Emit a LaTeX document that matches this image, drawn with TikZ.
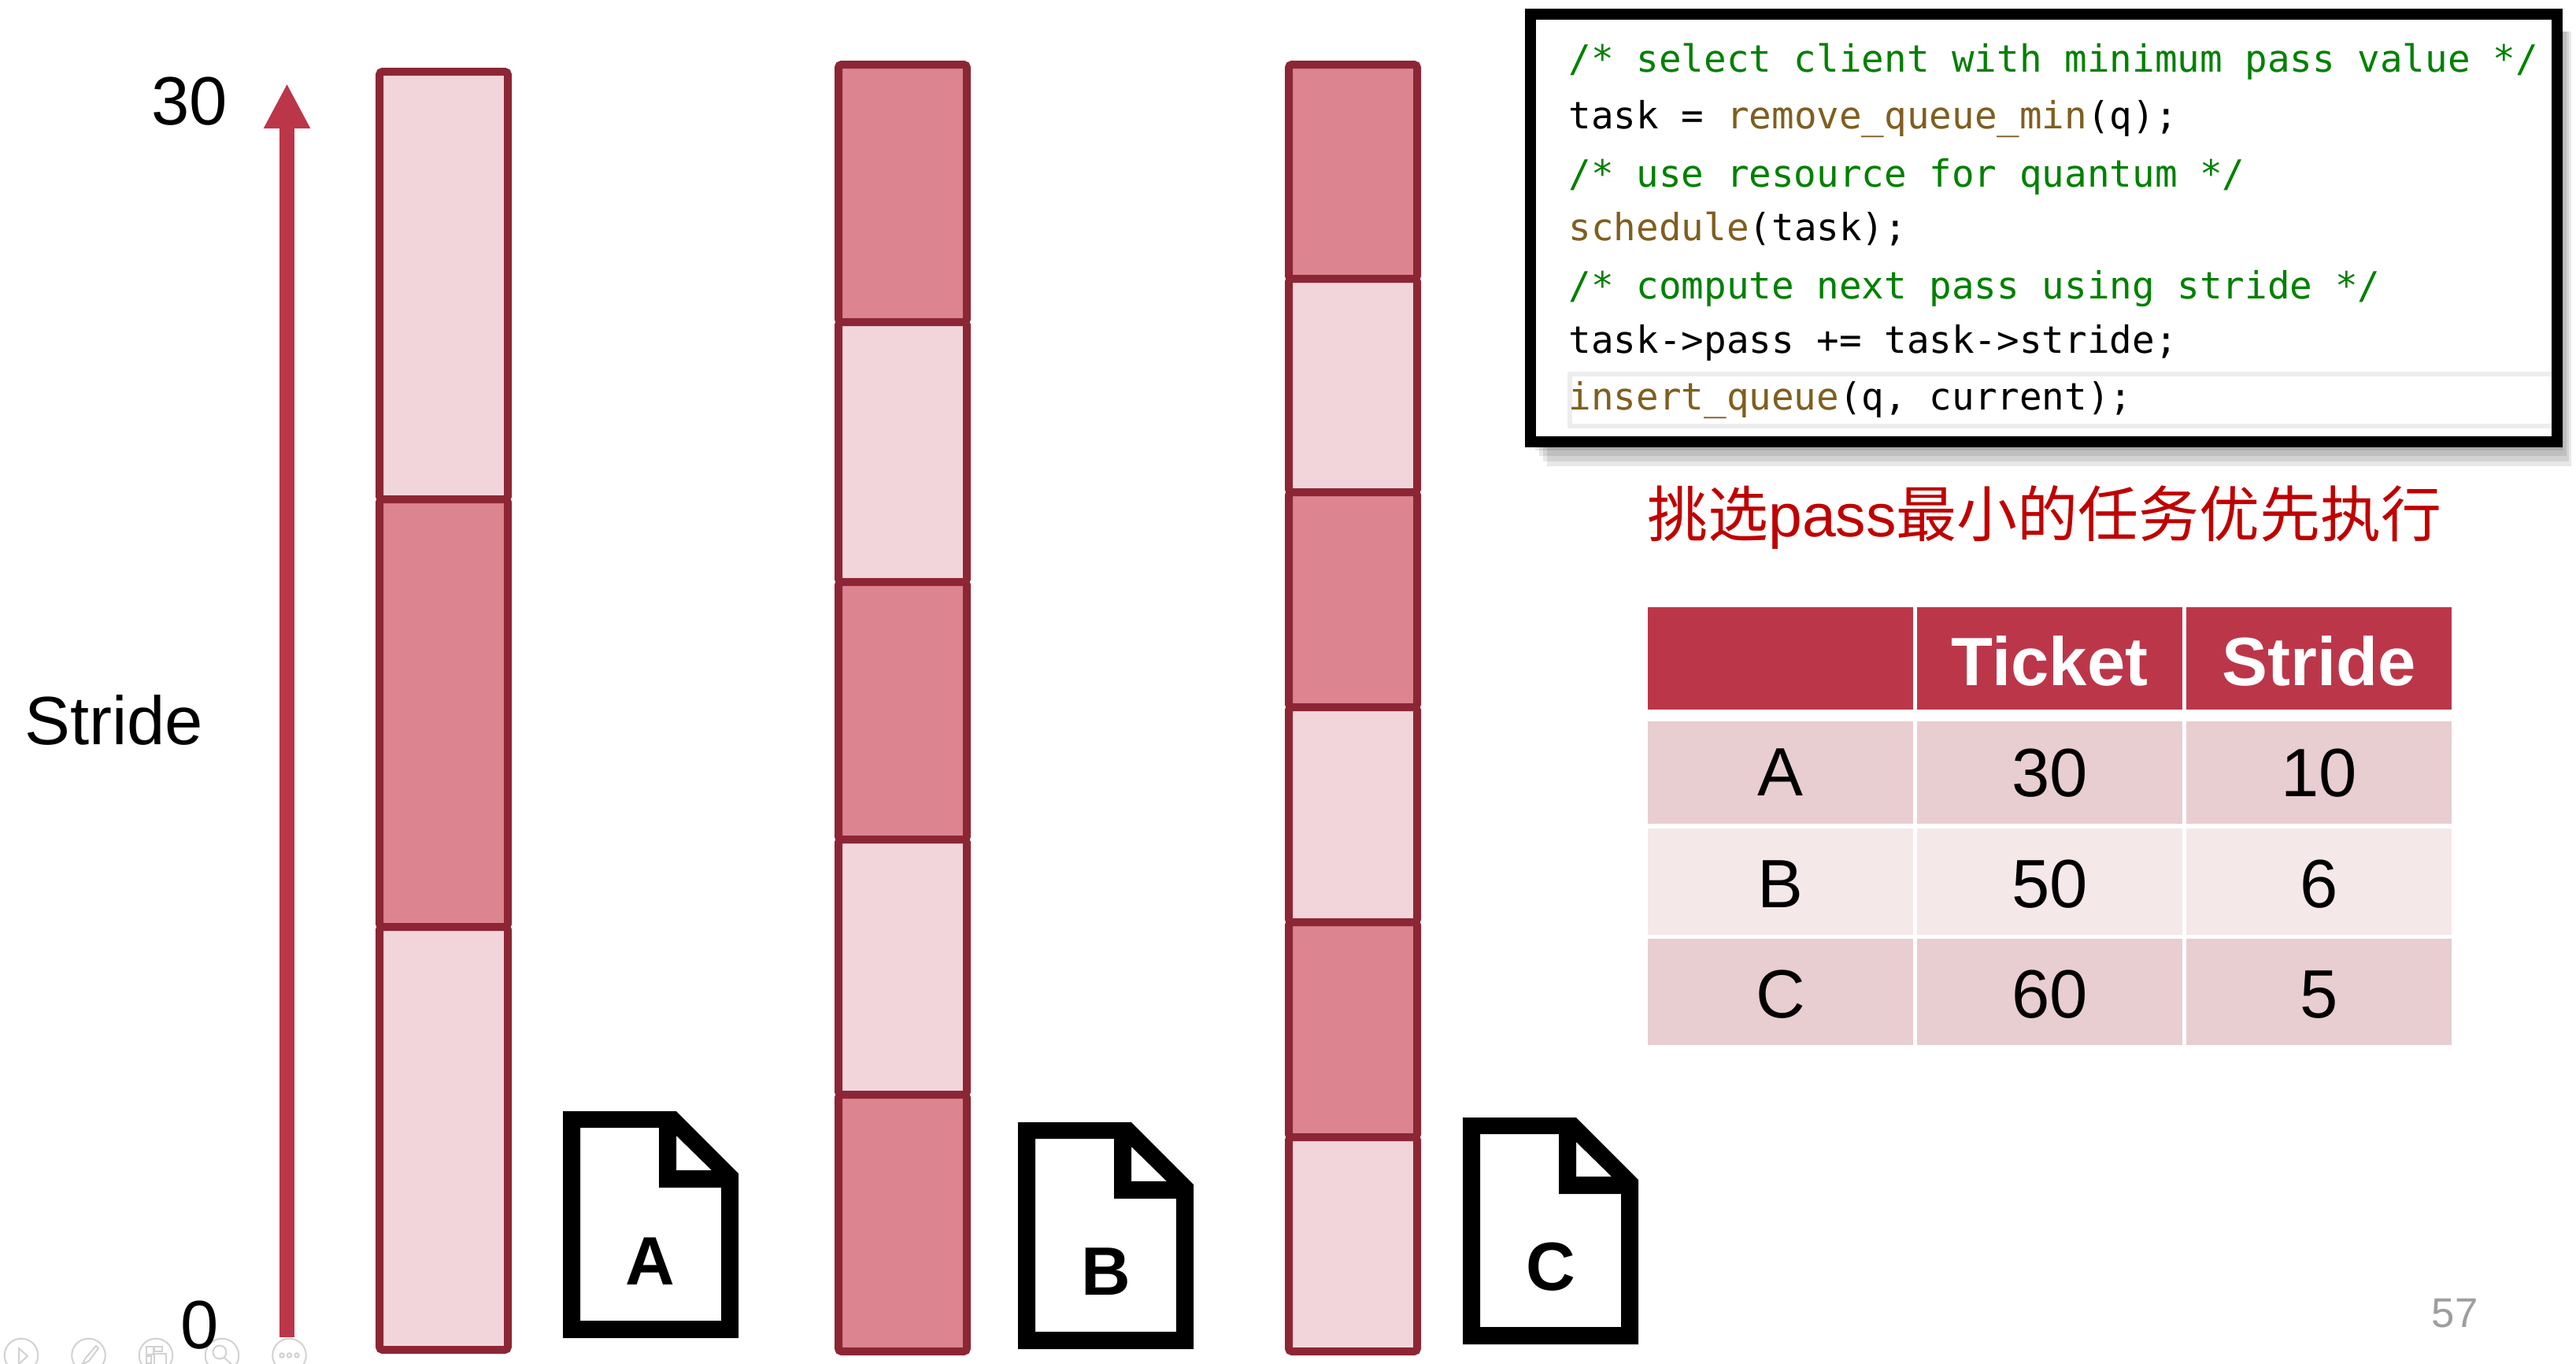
\documentclass[tikz,border=0pt]{standalone}
\usepackage{fontspec}
\setmainfont{Liberation Sans}
\newfontfamily\cjk{Noto Sans CJK SC}
\newfontfamily\codefont{DejaVu Sans Mono}
\usetikzlibrary{arrows.meta,positioning}
\definecolor{barline}{HTML}{8C2635}
\definecolor{barlite}{HTML}{F2D5DA}
\definecolor{bardark}{HTML}{DC848F}
\definecolor{crimson}{HTML}{BC364A}
\definecolor{rowdark}{HTML}{E8CDD1}
\definecolor{rowlite}{HTML}{F4E8E9}
\definecolor{codegreen}{HTML}{008000}
\definecolor{codebrown}{HTML}{7F5F1F}
\definecolor{icongray}{HTML}{D2D2D2}
% file icon, #1 name, #2 top left corner, #3 letter, #4 letter position
\newcommand{\docicon}[4]{
  \fill[black,even odd rule,shift={#2}] (0,0) -- (1.44,0) -- (2.23,0.79) -- (2.23,2.88) -- (0,2.88) -- cycle
    (0.22,0.21) -- (1.22,0.21) -- (1.22,0.97) -- (2.01,0.97) -- (2.01,2.66) -- (0.22,2.66) -- cycle
    (1.44,0.31) -- (1.44,0.75) -- (1.89,0.75) -- cycle;
  \node[bigtext,font=\fontsize{24.7}{30}\selectfont\bfseries] (#1) at #4 {#3};
}

\begin{document}
\begin{tikzpicture}[>=Latex,y=-1cm,node distance=0pt]
  \tikzstyle{seg}=[draw=barline,line width=0.1cm,rounded corners=0.04cm,minimum width=1.63cm,inner sep=0pt,outer sep=0pt]
  \tikzstyle{seglite}=[seg,fill=barlite]
  \tikzstyle{segdark}=[seg,fill=bardark]
  \tikzstyle{bigtext}=[inner sep=0pt,font=\fontsize{24.7}{30}\selectfont]
  \tikzstyle{cell}=[bigtext,minimum width=3.37cm,minimum height=1.3cm,outer sep=0pt,text depth=0pt]
  \tikzstyle{tallcell}=[cell,minimum height=1.35cm,text height=0.65cm]
  \tikzstyle{headcell}=[cell,fill=crimson,text=white,text height=0.68cm,font=\fontsize{24.7}{30}\selectfont\bfseries]
  \tikzstyle{codeline}=[anchor=base west,inner sep=0pt,font=\fontsize{13.53}{16}\codefont]
  \tikzstyle{shade}=[fill=black,opacity=0.09]
  \tikzstyle{ctrl}=[draw=icongray,line width=0.02cm]
  \useasboundingbox (0,0) rectangle (32.72,17.31);
  \fill[white] (0,0) rectangle (32.72,17.31);

  % slide controls
  \draw[ctrl] (0.27,17.21) circle (0.213) (1.125,17.21) circle (0.213) (1.98,17.21) circle (0.213) (2.82,17.21) circle (0.213) (3.675,17.21) circle (0.213);
  \draw[ctrl] (0.24,17.12) -- (0.35,17.22) -- (0.24,17.32) -- cycle;
  \draw[ctrl] (1.22,17.09) -- (1.09,17.24) -- (1.04,17.33) -- (1.13,17.28) -- (1.25,17.12) -- cycle;
  \draw[ctrl] (1.86,17.10) rectangle (1.95,17.20) (1.96,17.10) rectangle (2.06,17.16) (1.86,17.22) rectangle (1.92,17.31) (1.96,17.19) rectangle (2.11,17.33);
  \draw[ctrl] (2.79,17.17) circle (0.085) (2.85,17.24) -- (2.95,17.33);
  \draw[ctrl] (3.58,17.21) circle (0.027) (3.675,17.21) circle (0.027) (3.77,17.21) circle (0.027);

  % axis
  \coordinate (axisbot) at (3.645,16.98);
  \coordinate (axistop) at (3.645,1.06);
  \draw[crimson,line width=0.19cm,-{Triangle[length=0.57cm,width=0.55cm]}] (axisbot) -- (axistop);
  \node[bigtext] (top) at (2.41,1.29) {30};
  \node[bigtext] (zero) at (2.54,16.83) {0};
  \node[bigtext] (stride) at (1.445,9.14) {Stride};

  % bar of A
  \node[seglite,anchor=north,minimum height=5.43cm] (a1) at (5.635,0.91) {};
  \node[segdark,below=of a1,minimum height=5.43cm] (a2) {};
  \node[seglite,below=of a2,minimum height=5.37cm] (a3) {};

  % bar of B
  \node[segdark,anchor=north,minimum height=3.27cm] (b1) at (11.465,0.82) {};
  \node[seglite,below=of b1,minimum height=3.30cm] (b2) {};
  \node[segdark,below=of b2,minimum height=3.27cm] (b3) {};
  \node[seglite,below=of b3,minimum height=3.24cm] (b4) {};
  \node[segdark,below=of b4,minimum height=3.26cm] (b5) {};

  % bar of C
  \node[segdark,anchor=north,minimum height=2.72cm] (c1) at (17.185,0.82) {};
  \node[seglite,below=of c1,minimum height=2.71cm] (c2) {};
  \node[segdark,below=of c2,minimum height=2.73cm] (c3) {};
  \node[seglite,below=of c3,minimum height=2.73cm] (c4) {};
  \node[segdark,below=of c4,minimum height=2.73cm] (c5) {};
  \node[seglite,below=of c5,minimum height=2.72cm] (c6) {};

  \docicon{docA}{(7.15,14.11)}{A}{(8.26,16.02)}
  \docicon{docB}{(12.93,14.25)}{B}{(14.05,16.15)}
  \docicon{docC}{(18.58,14.19)}{C}{(19.70,16.09)}

  % code box
  \fill[shade] (19.50,0.4) rectangle (32.56,5.72);
  \fill[shade] (19.55,0.4) rectangle (32.60,5.79);
  \fill[shade] (19.60,0.4) rectangle (32.63,5.86);
  \fill[shade] (19.65,0.4) rectangle (32.66,5.92);
  \node[fill=white,minimum width=13.04cm,minimum height=5.435cm,inner sep=0pt] (codebg) at (25.96,2.8925) {};
  \draw[black!7,line width=0.06cm] (32.41,4.745) -- (19.94,4.745) -- (19.94,5.405) -- (32.41,5.405);
  \node[draw=black,line width=0.14cm,minimum width=13.04cm,minimum height=5.435cm,inner sep=0pt] (codebox) at (25.96,2.8925) {};
  \node[codeline,text=codegreen] (code1) at (19.92,0.91) {/* select client with minimum pass value */};
  \node[codeline] (code2) at (19.92,1.63) {task = {\color{codebrown}remove\_queue\_min}(q);};
  \node[codeline,text=codegreen] (code3) at (19.92,2.37) {/* use resource for quantum */};
  \node[codeline] (code4) at (19.92,3.05) {{\color{codebrown}schedule}(task);};
  \node[codeline,text=codegreen] (code5) at (19.92,3.79) {/* compute next pass using stride */};
  \node[codeline] (code6) at (19.92,4.48) {task->pass += task->stride;};
  \node[codeline] (code7) at (19.92,5.20) {{\color{codebrown}insert\_queue}(q, current);};

  \node[inner sep=0pt,text=red!75!black,font=\fontsize{21.9}{28}\selectfont] (note) at (25.97,6.57) {{\cjk 挑选}pass{\cjk 最小的任务优先执行}};

  % table
  \node[headcell,anchor=north west] (h0) at (20.93,7.71) {};
  \node[headcell,right=0.05cm of h0] (h1) {Ticket};
  \node[headcell,right=0.05cm of h1] (h2) {Stride};
  \node[cell,fill=rowdark,below=0.15cm of h0] (a0) {A};
  \node[cell,fill=rowdark,right=0.05cm of a0] (at) {30};
  \node[cell,fill=rowdark,right=0.05cm of at] (as) {10};
  \node[tallcell,fill=rowlite,below=0.06cm of a0] (b0) {B};
  \node[tallcell,fill=rowlite,right=0.05cm of b0] (bt) {50};
  \node[tallcell,fill=rowlite,right=0.05cm of bt] (bs) {6};
  \node[tallcell,fill=rowdark,below=0.05cm of b0] (c0) {C};
  \node[tallcell,fill=rowdark,right=0.05cm of c0] (ct) {60};
  \node[tallcell,fill=rowdark,right=0.05cm of ct] (cs) {5};

  \node[inner sep=0pt,text=black!38,font=\fontsize{15}{18}\selectfont] (pageno) at (31.18,16.68) {57};
\end{tikzpicture}
\end{document}
